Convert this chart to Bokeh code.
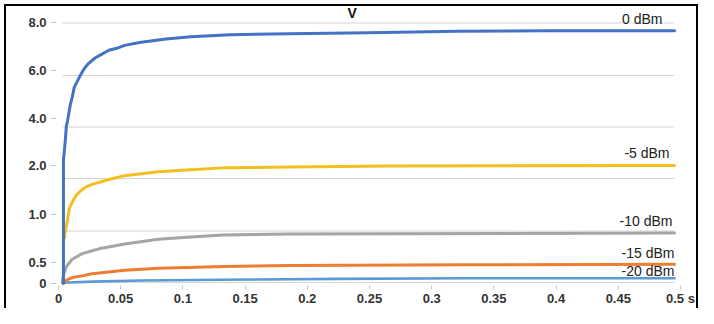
import numpy as np
from bokeh.plotting import figure
from bokeh.models import Range1d, FixedTicker, ColumnDataSource, Label
from bokeh.core.properties import value
from bokeh.embed import file_html
from bokeh.resources import INLINE

# ---------------- data ----------------
series_names = ["0 dBm", "-5 dBm", "-10 dBm", "-15 dBm", "-20 dBm"]

t_0dbm = [0.004, 0.004, 0.0056, 0.0063, 0.0071, 0.0095, 0.0111, 0.0127, 0.0151, 0.0175,
          0.0206, 0.0238, 0.0294, 0.0349, 0.0405, 0.0468, 0.0532, 0.0651, 0.0865, 0.1063,
          0.1381, 0.1857, 0.2492, 0.3206, 0.3921, 0.4952]
v_0dbm = [0.0, 2.24, 3.14, 3.67, 3.84, 4.57, 4.90, 5.31, 5.55, 5.80,
          6.08, 6.28, 6.52, 6.68, 6.84, 6.92, 7.04, 7.16, 7.30, 7.40,
          7.48, 7.52, 7.56, 7.62, 7.64, 7.64]

t_m5dbm = [0.0048, 0.0056, 0.0071, 0.0087, 0.0111, 0.0143, 0.0167, 0.0214, 0.0270, 0.0405,
           0.0532, 0.0802, 0.1063, 0.1325, 0.1857, 0.2651, 0.4952]
v_m5dbm = [0.755, 0.83, 0.93, 1.12, 1.26, 1.40, 1.46, 1.56, 1.62, 1.72,
           1.80, 1.88, 1.92, 1.96, 1.98, 2.00, 2.02]

t_m10dbm = [0.0032, 0.004, 0.0056, 0.0071, 0.0111, 0.0190, 0.0270, 0.0325, 0.0532, 0.0802,
            0.1063, 0.1325, 0.1857, 0.4952]
v_m10dbm = [0.07, 0.20, 0.34, 0.43, 0.53, 0.59, 0.62, 0.64, 0.69, 0.74,
            0.765, 0.785, 0.795, 0.805]

t_m15dbm = [0.0032, 0.0071, 0.0111, 0.019, 0.027, 0.0532, 0.0802, 0.1325, 0.1857, 0.3286, 0.4952]
v_m15dbm = [0.02, 0.09, 0.14, 0.18, 0.23, 0.31, 0.36, 0.40, 0.42, 0.44, 0.45]

t_m20dbm = [0.0032, 0.027, 0.0667, 0.1302, 0.2254, 0.3286, 0.4952]
v_m20dbm = [0.02, 0.045, 0.07, 0.09, 0.11, 0.125, 0.125]

# non-uniform value axis: tick values and where they sit on the axis
y_tick_values = [0, 0.5, 1.0, 2.0, 4.0, 6.0, 8.0]
y_tick_labels = ["0", "0.5", "1.0", "2.0", "4.0", "6.0", "8.0"]
y_tick_pos = [0, 22, 71, 121, 170, 219, 269]
grid_pos = [1, 54, 108, 161, 214, 268]

x_ticks = [0, 0.05, 0.1, 0.15, 0.2, 0.25, 0.3, 0.35, 0.4, 0.45, 0.5]
x_tick_labels = ["0", "0.05", "0.1", "0.15", "0.2", "0.25", "0.3", "0.35", "0.4", "0.45", "0.5 s"]

# ---------------- styles ----------------
colors = ["#4472C4", "#F2C01E", "#A5A5A5", "#ED7D31", "#5B9BD5"]
widths = [3, 3, 3, 3, 2.6]
label_dx = [-12, -5, -2, 0, 0]
label_dy = [-12, -12, -12, -11, -7]
FONT = "Liberation Sans"


def to_axis(v):
    return np.interp(np.asarray(v, dtype=float), y_tick_values, y_tick_pos)


ts = [t_0dbm, t_m5dbm, t_m10dbm, t_m15dbm, t_m20dbm]
vs = [v_0dbm, v_m5dbm, v_m10dbm, v_m15dbm, v_m20dbm]

p = figure(width=698, height=308, output_backend="svg", toolbar_location=None,
           x_range=Range1d(-0.0016, 0.5), y_range=Range1d(-2, 285),
           min_border_left=56, min_border_right=18, min_border_top=6, min_border_bottom=19)
p.outline_line_color = None
p.background_fill_color = "white"
p.border_fill_color = None
p.xgrid.visible = False
p.ygrid.visible = False
# picture frame (left, top, right edges) drawn as inset shadows on the figure element
p.styles = {
    "box-shadow": ("inset 4px 4px 0 0 #ffffff, "
                   "inset 6px 6px 0 0 #000000, inset -2px 0 0 0 #000000"),
    "background-color": "white",
}

# gridlines spanning the data extent
t_min = min(t[0] for t in ts)
t_max = max(t[-1] for t in ts)
p.segment(x0=[t_min] * len(grid_pos), x1=[t_max] * len(grid_pos), y0=grid_pos, y1=grid_pos,
          line_color="#D4D4D4", line_width=1)

# series: draw the bottom ones first, 0 dBm on top
for i in [4, 3, 2, 1, 0]:
    p.line(ts[i], to_axis(vs[i]), line_color=colors[i], line_width=widths[i],
           line_join="round", line_cap="round")

# series labels at the line ends
lab = ColumnDataSource(dict(
    x=[t[-1] for t in ts],
    y=[float(to_axis(v[-1])) for v in vs],
    text=series_names,
    dx=label_dx,
    dy=label_dy,
))
p.text(x="x", y="y", text="text", x_offset="dx", y_offset="dy", source=lab,
       text_align="right", text_baseline="middle", text_font=value(FONT),
       text_font_size="14px", text_color="#222222")

# title "V"
p.add_layout(Label(x=0.236, y=278, text="V", text_align="center", text_baseline="middle",
                   text_font=FONT, text_font_size="14px", text_font_style="bold",
                   text_color="#111111"))

# axes
p.yaxis.ticker = FixedTicker(ticks=y_tick_pos)
p.yaxis.major_label_overrides = {pos: lab_ for pos, lab_ in zip(y_tick_pos, y_tick_labels)}
p.xaxis.ticker = FixedTicker(ticks=x_ticks)
p.xaxis.major_label_overrides = {tk: lab_ for tk, lab_ in zip(x_ticks, x_tick_labels)}
for ax in (p.xaxis, p.yaxis):
    ax.axis_line_color = None
    ax.minor_tick_line_color = None
    ax.major_tick_in = 0
    ax.major_tick_line_color = "#C8C8C8"
    ax.major_label_text_font = FONT
    ax.major_label_text_font_style = "bold"
    ax.major_label_text_color = "#333333"
    ax.major_label_text_font_size = "13px"
p.yaxis.major_tick_out = 6
p.yaxis.major_label_standoff = 4
p.xaxis.major_tick_out = 4
p.xaxis.major_label_standoff = 1

open("out.html", "w").write(file_html(p, INLINE))
